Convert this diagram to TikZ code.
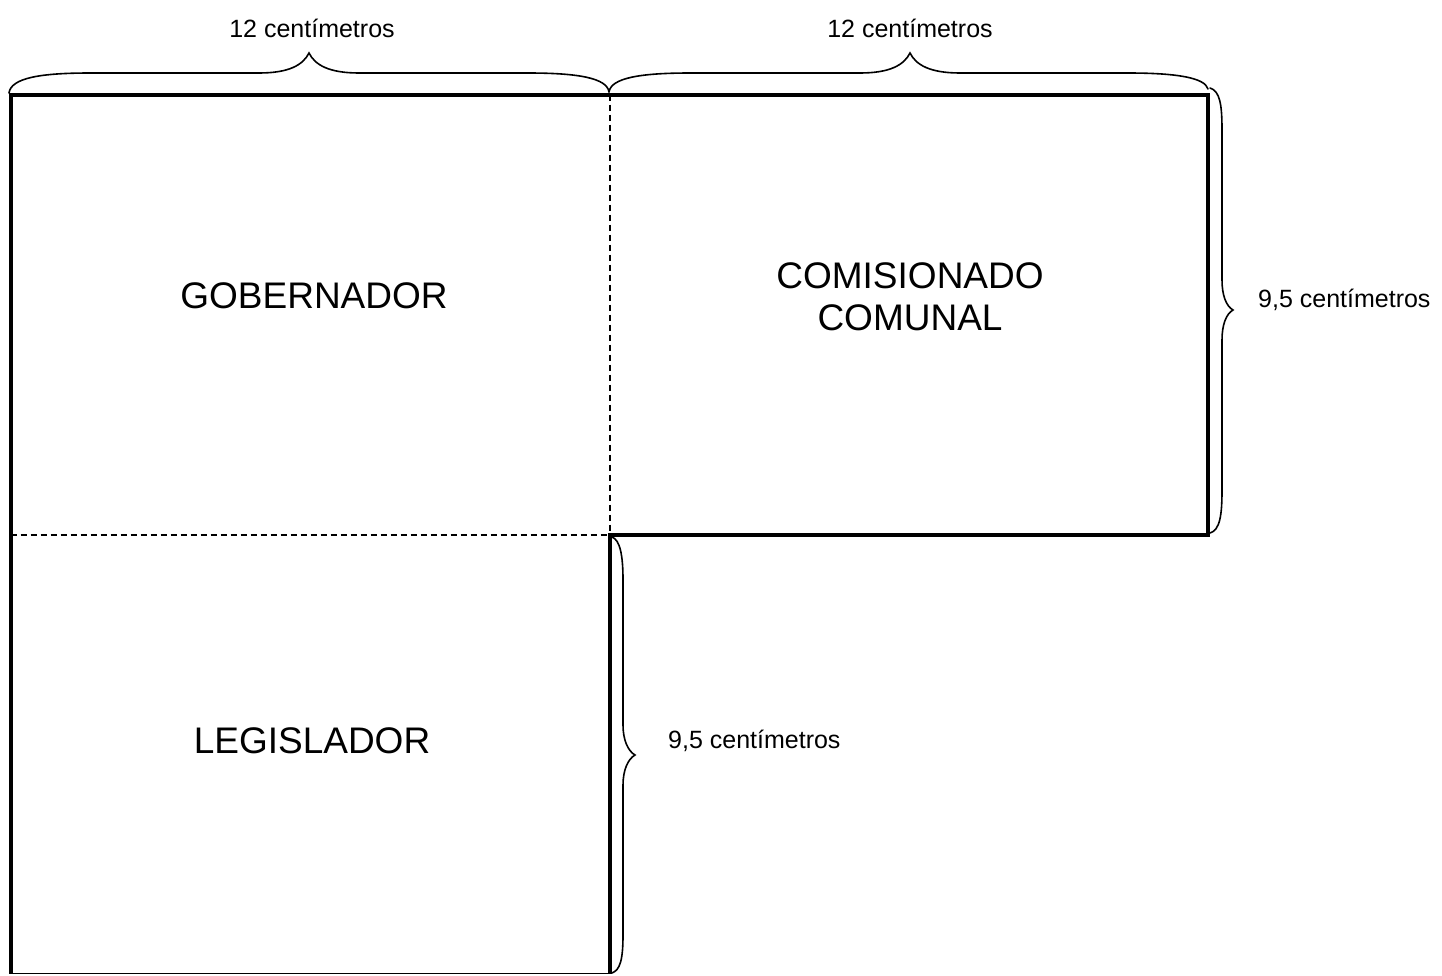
\documentclass[tikz,border=0pt]{standalone}
\usepackage{fontspec}
\setmainfont{Liberation Sans}
\begin{document}
\begin{tikzpicture}[x=1pt,y=-1pt,
  thickedge/.style={line width=4pt,line join=miter,line cap=butt},
  thinedge/.style={line width=1pt},
  fold/.style={line width=2pt,dash pattern=on 6.5pt off 3.5pt},
  bracepath/.style={line width=1.6pt,line cap=round},
  biglabel/.style={font=\fontsize{37}{41.5}\selectfont,align=center,inner sep=0pt},
  smalllabel/.style={font=\fontsize{25}{30}\selectfont,inner sep=0pt}]
\useasboundingbox (0,0) rectangle (1442,975);
% named corners
\coordinate (tl) at (10.5,94.5);
\coordinate (tm) at (609.5,94.5);
\coordinate (tr) at (1207.5,94.5);
\coordinate (mr) at (1207.5,534.5);
\coordinate (mm) at (609.5,534.5);
\coordinate (ml) at (10.5,534.5);
\coordinate (bl) at (10.5,973.5);
\coordinate (bm) at (609.5,973.5);
% outline
\draw[thickedge] (bl) -- (tl) -- (tr) -- (mr) -- (mm) -- (bm);
\draw[thinedge] (bl) -- (bm);
\draw[fold] (tm) -- (mm);
\draw[fold] (ml) -- (mm);
% braces
\draw[bracepath] (9,93) .. controls (11,78) and (40,73) .. (90,73) -- (259,73)
  .. controls (289,73) and (303,65) .. (309,53)
  .. controls (315,65) and (329,73) .. (359,73) -- (528,73)
  .. controls (578,73) and (607,78) .. (609,92);
\draw[bracepath] (609,92) .. controls (611,78) and (640,73) .. (690,73) -- (860,73)
  .. controls (890,73) and (904,65) .. (910,53)
  .. controls (916,65) and (930,73) .. (960,73) -- (1128,73)
  .. controls (1178,73) and (1205,78) .. (1208,89);
\draw[bracepath] (1210,88) .. controls (1220,91) and (1222,105) .. (1222,130) -- (1222,280)
  .. controls (1222,295) and (1226,306) .. (1233,310)
  .. controls (1226,314) and (1222,325) .. (1222,340) -- (1222,490)
  .. controls (1222,515) and (1220,530) .. (1210,533);
\draw[bracepath] (612,537) .. controls (620,540) and (623,555) .. (623,580) -- (623,725)
  .. controls (623,740) and (628,751) .. (635,755)
  .. controls (628,759) and (623,770) .. (623,785) -- (623,935)
  .. controls (623,960) and (620,970) .. (612,973);
% texts
\node[biglabel] (gob) at (314,296) {GOBERNADOR};
\node[biglabel] (com) at (910,297) {COMISIONADO\\COMUNAL};
\node[biglabel] (leg) at (312,741) {LEGISLADOR};
\node[smalllabel] (w1) at (312,28) {12 centímetros};
\node[smalllabel] (w2) at (910,28) {12 centímetros};
\node[smalllabel,anchor=west] (h1) at (1258,300) {9,5 centímetros};
\node[smalllabel,anchor=west] (h2) at (668,741) {9,5 centímetros};
\end{tikzpicture}
\end{document}
